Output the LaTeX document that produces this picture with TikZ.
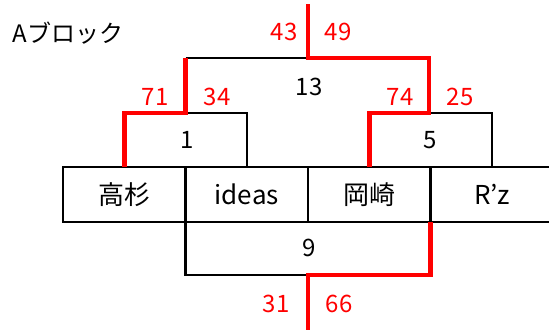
\documentclass[tikz,border=0pt]{standalone}
\usepackage{fontspec}
\setmainfont{Noto Sans CJK JP}
\usetikzlibrary{positioning}

\begin{document}
\begin{tikzpicture}[x=1pt,y=-1pt,line width=2.5pt,node distance=0pt]
  \tikzstyle{team}=[draw,minimum width=122.5pt,minimum height=55pt,inner sep=0pt,outer sep=0pt,
                    font=\fontsize{26}{26}\selectfont]
  \tikzstyle{num}=[inner sep=0pt,font=\fontsize{24}{24}\selectfont]
  \tikzstyle{score}=[num,text=red]
  \tikzstyle{win}=[red,line width=4.5pt]
\useasboundingbox (0,0) rectangle (549,330);
\node [anchor=west,font=\fontsize{24}{24}\selectfont] (title) at (8,33) {Aブロック};
% teams
\node [team] (0) at (124.25,194.5) {高杉};
\node [team] [right=of 0] (1) {ideas};
\node [team] [right=of 1] (2) {岡崎};
\node [team] [right=of 2] (3) {R'z};
% bracket corners
\coordinate (m1) at (185.5,113);
\coordinate (m5) at (429,113);
\coordinate (m13) at (308,58);
\coordinate (m9) at (308,275);
\coordinate (top) at (308,4);
\coordinate (bottom) at (308,330);
% losers
\draw (m1) -| (1.north);
\draw (m5) -| (3.north);
\draw (m1 |- m13) -- (m13);
\draw (0.south east) |- (m9);
% winners
\draw [win] (0.north) |- (m1) -- (m1 |- m13);
\draw [win] (top) -- (m13) -| (m5) -| (2.north);
\draw [win] (2.south east) |- (m9) -- (bottom);
% match numbers
\node [num] (n1) at (187,140) {1};
\node [num] (n5) at (430,140) {5};
\node [num] (n13) at (309,87) {13};
\node [num] (n9) at (309,248) {9};
% scores
\node [score] (s71) at (155,97) {71};
\node [score] (s34) at (217,97) {34};
\node [score] (s74) at (400,97) {74};
\node [score] (s25) at (460,97) {25};
\node [score] (s43) at (284,32) {43};
\node [score] (s49) at (338,32) {49};
\node [score] (s31) at (276,304) {31};
\node [score] (s66) at (339,304) {66};
\end{tikzpicture}
\end{document}
